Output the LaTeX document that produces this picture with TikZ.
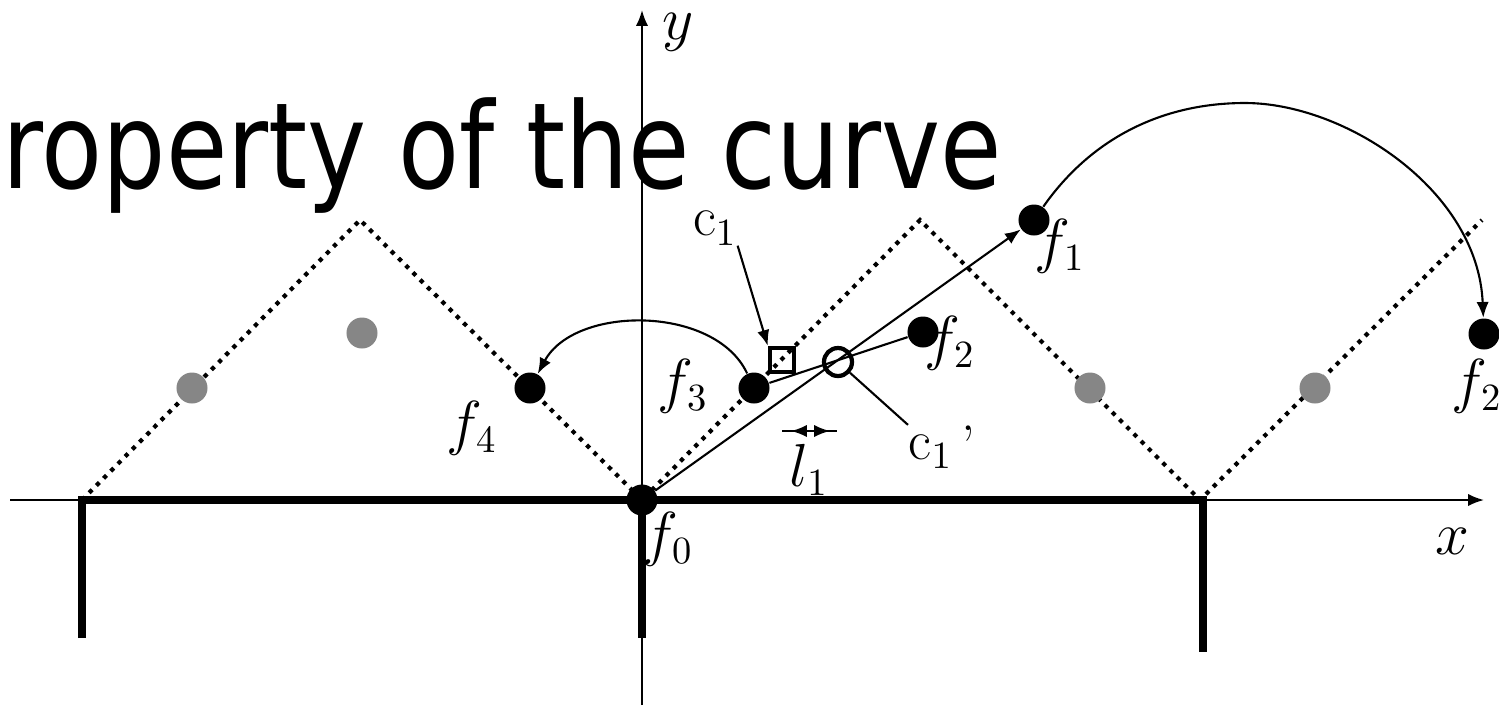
\documentclass[tikz,border=0pt]{standalone}
\usepackage{fontspec}
\newfontfamily\titlefont{DejaVu Sans}
\usetikzlibrary{arrows.meta}
\begin{document}
\begin{tikzpicture}[x=0.01cm,y=-0.01cm,
  thinln/.style={line width=0.6pt},
  thickln/.style={line width=2pt},
  arr/.style={line width=0.6pt,-{Latex[length=4.5pt,width=3.5pt]}},
  zig/.style={line width=1.2pt,dash pattern=on 1.2pt off 1.7pt},
  bdot/.style={circle,fill=black,inner sep=0pt,minimum size=0.31cm},
  gdot/.style={circle,fill=gray!95,inner sep=0pt,minimum size=0.31cm},
  lab/.style={inner sep=0pt,font=\fontsize{16}{19}\selectfont}
]
\useasboundingbox (0,0) rectangle (1499,711);
% title
\node[anchor=base west,inner sep=0pt] (title) at (2,188)
  {\scalebox{0.835}[1]{\fontsize{34}{40}\selectfont\titlefont roperty of the curve}};
% axes
\coordinate (xs) at (10,500);
\coordinate (xe) at (1484,500);
\coordinate (ys) at (642,705);
\coordinate (ye) at (642,10);
\draw[arr] (xs) -- (xe);
\draw[arr] (ys) -- (ye);
% thick frame
\coordinate (a1) at (82,638);
\coordinate (a2) at (82,500);
\coordinate (a3) at (1203,500);
\coordinate (a4) at (1203,652);
\coordinate (a5) at (642,500);
\coordinate (a6) at (642,638);
\draw[thickln] (a1) -- (a2) -- (a3) -- (a4);
\draw[thickln] (a5) -- (a6);
% dotted zigzag
\coordinate (z1) at (82,500);
\coordinate (z2) at (360,220);
\coordinate (z3) at (642,500);
\coordinate (z4) at (920,220);
\coordinate (z5) at (1200,500);
\coordinate (z6) at (1482,220);
\draw[zig] (z1) -- (z2) -- (z3) -- (z4) -- (z5) -- (z6);
% gray dots
\node[gdot] (g1) at (192,388) {};
\node[gdot] (g2) at (362,333) {};
\node[gdot] (g3) at (1090,388) {};
\node[gdot] (g4) at (1315,388) {};
% black dots
\node[bdot] (f0) at (642,500) {};
\node[bdot] (f1) at (1034,220) {};
\node[bdot] (f2) at (923,332) {};
\node[bdot] (f3) at (754,388) {};
\node[bdot] (f4) at (530,388) {};
\node[bdot] (f2r) at (1484,334) {};
% c1 square and c1' circle
\node[draw,line width=1.2pt,minimum size=0.24cm,inner sep=0pt] (sq) at (782,360) {};
\node[draw,circle,line width=1.2pt,minimum size=0.28cm,inner sep=0pt] (cp) at (838,362) {};
% connectors
\draw[arr] (f0) -- (f1);
\draw[thinln] (f3) -- (f2);
\draw[arr] (f3) .. controls (715,305) and (575,305) .. (f4);
\draw[arr] (f1) .. controls (1090,140) and (1160,103) .. (1245,103)
                 .. controls (1345,103) and (1478,190) .. (f2r);
% labels
\node[lab] (ly) at (678,32) {$y$};
\node[lab] (lx) at (1452,541) {$x$};
\node[lab] (lf0) at (668,539) {$f_0$};
\node[lab] (lf1) at (1060,246) {$f_1$};
\node[lab] (lf2) at (950,343) {$f_2$};
\node[lab] (lf2r) at (1477,386) {$f_2$};
\node[lab] (lf3) at (683,386) {$f_3$};
\node[lab] (lf4) at (472,428) {$f_4$};
\node[lab] (lc1) at (715,228) {$\mathrm{c}_1$};
\node[lab,anchor=west] (lc1p) at (908,447) {$\mathrm{c}_1$\,\raisebox{1.2ex}{,}};
\node[lab] (ll1) at (809,470) {$l_1$};
\draw[arr] (lc1.south east) -- (sq.north west);
\draw[thinln] (cp) -- (lc1p.north west);
% l1 marker
\coordinate (m1) at (782,431);
\coordinate (m2) at (837,431);
\coordinate (m3) at (807,431);
\coordinate (m4) at (791,431);
\coordinate (m5) at (812,431);
\coordinate (m6) at (830,431);
\draw[thinln] (m1) -- (m2);
\draw[arr] (m3) -- (m4);
\draw[arr] (m5) -- (m6);
\end{tikzpicture}
\end{document}
